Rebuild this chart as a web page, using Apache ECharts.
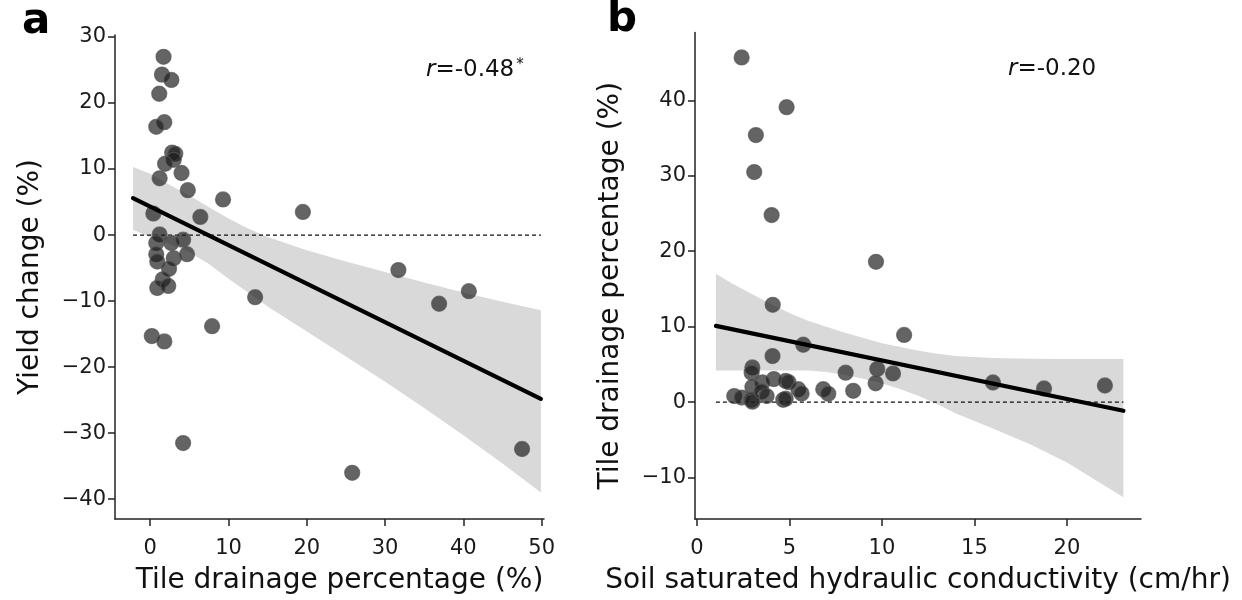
<!DOCTYPE html>
<html>
<head>
<meta charset="utf-8">
<script src="https://cdn.jsdelivr.net/npm/echarts@6/dist/echarts.min.js"></script>
<style>
html,body{margin:0;padding:0;background:#fff;}
#chart{width:1242px;height:600px;}
</style>
</head>
<body>
<div id="chart"></div>
<script>
// ---------- Panel a: Tile drainage % (x) vs Yield change % (y) ----------
const aX = [1.7, 1.5, 2.7, 1.15, 1.8, 0.77, 2.8, 3.2, 3.0, 1.9, 4.0, 1.2, 4.8, 9.3, 0.4, 6.4, 1.2, 0.77, 2.7, 4.2, 0.77, 0.9, 3.0, 4.7, 2.4, 1.6, 0.9, 2.3, 7.9, 0.2, 1.8, 4.2, 19.5, 31.7, 40.7, 36.9, 13.4, 25.8, 47.5];
const aY = [27.0, 24.3, 23.5, 21.4, 17.1, 16.4, 12.5, 12.3, 11.4, 10.8, 9.4, 8.6, 6.8, 5.4, 3.25, 2.75, 0.1, -1.2, -1.2, -0.7, -2.9, -4.0, -3.5, -2.9, -5.1, -6.7, -8.0, -7.7, -13.8, -15.3, -16.1, -31.5, 3.5, -5.3, -8.5, -10.4, -9.4, -36.0, -32.4];
const aFitX = [-2.2, 49.9];
const aFitY = [5.6, -24.8];
const aBandX = [-2.2, 0, 2.5, 5, 7.5, 10, 12.5, 15, 20, 25, 30, 35, 40, 45, 49.9];
const aBandUpper = [10.3, 9.3, 7.6, 6.0, 4.2, 2.5, 1.0, -0.3, -2.3, -4.0, -5.6, -7.2, -8.7, -10.1, -11.4];
const aBandLower = [0.8, -0.3, -1.4, -2.6, -4.4, -6.6, -8.7, -10.8, -14.6, -18.4, -22.2, -26.2, -30.3, -34.6, -39.0];
const aXTicks = [0, 10, 20, 30, 40, 50];
const aYTicks = [-40, -30, -20, -10, 0, 10, 20, 30];

// ---------- Panel b: Soil Ksat (x) vs Tile drainage % (y) ----------
const bX = [2.42, 4.85, 3.19, 3.10, 4.04, 9.68, 4.1, 11.2, 5.75, 4.09, 3.0, 2.96, 8.04, 9.75, 10.6, 9.66, 4.16, 3.55, 3.0, 4.8, 4.95, 5.48, 5.66, 6.83, 7.1, 8.45, 2.02, 2.42, 2.96, 3.0, 3.5, 3.77, 4.67, 4.8, 16.0, 18.76, 22.05];
const bY = [45.7, 39.1, 35.4, 30.5, 24.8, 18.6, 12.9, 8.9, 7.6, 6.1, 4.6, 3.9, 3.9, 4.4, 3.8, 2.5, 3.05, 2.6, 2.0, 2.8, 2.65, 1.7, 1.15, 1.7, 1.1, 1.5, 0.8, 0.6, 0.3, 0.05, 1.4, 0.8, 0.3, 0.45, 2.6, 1.8, 2.2];
const bFitX = [1.03, 23.05];
const bFitY = [10.1, -1.15];
const bBandX = [1.03, 2, 3, 4, 5, 6, 7, 8, 9, 10, 11, 12, 13, 14, 16, 18, 20, 23.05];
const bBandUpper = [17.0, 15.6, 14.3, 13.0, 11.8, 10.8, 10.0, 9.2, 8.5, 7.8, 7.3, 6.8, 6.4, 6.1, 5.85, 5.75, 5.7, 5.7];
const bBandLower = [4.2, 4.2, 4.2, 4.2, 4.2, 4.2, 4.0, 3.6, 3.1, 2.5, 1.7, 0.8, -0.3, -1.5, -3.5, -5.6, -8.0, -12.6];
const bXTicks = [0, 5, 10, 15, 20];
const bYTicks = [-10, 0, 10, 20, 30, 40];

const FONT = 'DejaVu Sans';
const minusFmt = v => String(v).replace('-', '\u2212');

function pairs(xs, ys) { return xs.map((x, i) => [x, ys[i]]); }

function xAxisCfg(idx, min, max, ticks, name, namePad) {
  return {
    type: 'value', gridIndex: idx, min: min, max: max,
    name: name, nameLocation: 'middle', nameGap: 48,
    nameTextStyle: { fontFamily: FONT, fontSize: 28, color: '#111', padding: namePad },
    axisLine: { show: true, onZero: false, lineStyle: { color: '#222', width: 1.5 } },
    axisTick: { show: true, length: 7, customValues: ticks, lineStyle: { color: '#222', width: 1.5 } },
    axisLabel: { customValues: ticks, formatter: minusFmt, fontFamily: FONT, fontSize: 21, color: '#1a1a1a', margin: 19 },
    splitLine: { show: false }
  };
}
function yAxisCfg(idx, min, max, ticks, name, namePad) {
  return {
    type: 'value', gridIndex: idx, min: min, max: max,
    name: name, nameLocation: 'middle', nameGap: 70,
    nameTextStyle: { fontFamily: FONT, fontSize: 28, color: '#111', padding: namePad },
    axisLine: { show: true, onZero: false, lineStyle: { color: '#222', width: 1.5 } },
    axisTick: { show: true, length: 7, customValues: ticks, lineStyle: { color: '#222', width: 1.5 } },
    axisLabel: { customValues: ticks, formatter: minusFmt, fontFamily: FONT, fontSize: 21, color: '#1a1a1a', margin: 9 },
    splitLine: { show: false }
  };
}

function bandSeries(idx, bandX, up, lo) {
  return {
    type: 'custom', xAxisIndex: idx, yAxisIndex: idx, silent: true, z: 1, clip: false,
    data: bandX.map((x, i) => [x, up[i], lo[i]]),
    encode: { x: 0, y: [1, 2] },
    renderItem: function (params, api) {
      if (params.dataIndex !== 0) return null;
      const top = bandX.map((x, i) => api.coord([x, up[i]]));
      const bot = bandX.map((x, i) => api.coord([x, lo[i]])).reverse();
      return {
        type: 'polygon',
        shape: { points: top.concat(bot) },
        style: { fill: '#d9d9d9', stroke: null }
      };
    }
  };
}

function panelSeries(idx, xs, ys, fitX, fitY, bandX, up, lo) {
  return [
    bandSeries(idx, bandX, up, lo),
    {
      type: 'line', xAxisIndex: idx, yAxisIndex: idx,
      data: pairs(fitX, [0, 0]), symbol: 'none', silent: true,
      lineStyle: { color: '#111', width: 1.2, type: [4, 3] }, z: 2
    },
    {
      type: 'scatter', xAxisIndex: idx, yAxisIndex: idx,
      data: pairs(xs, ys), symbol: 'circle', symbolSize: 15,
      itemStyle: { color: 'rgba(28,28,28,0.85)', borderColor: 'rgba(85,85,85,0.9)', borderWidth: 1.3 },
      z: 3
    },
    {
      type: 'line', xAxisIndex: idx, yAxisIndex: idx,
      data: pairs(fitX, fitY), symbol: 'none', silent: true,
      lineStyle: { color: '#000', width: 4.2, cap: 'round' }, z: 4
    }
  ];
}

const chart = echarts.init(document.getElementById('chart'), null, { renderer: 'canvas' });
chart.setOption({
  backgroundColor: '#fff',
  animation: false,
  grid: [
    { left: 115, top: 35, width: 429, height: 484 },
    { left: 695, top: 32.5, width: 446, height: 486.5 }
  ],
  xAxis: [
    xAxisCfg(0, -4.5, 50.3, aXTicks, 'Tile drainage percentage (%)', [0, 0, 0, 20]),
    xAxisCfg(1, -0.1, 24.0, bXTicks, 'Soil saturated hydraulic conductivity (cm/hr)', 0)
  ],
  yAxis: [
    yAxisCfg(0, -43, 30.3, aYTicks, 'Yield change (%)', 0),
    yAxisCfg(1, -15.5, 49, bYTicks, 'Tile drainage percentage (%)', [0, 20, 0, 0])
  ],
  series: [].concat(
    panelSeries(0, aX, aY, aFitX, aFitY, aBandX, aBandUpper, aBandLower),
    panelSeries(1, bX, bY, bFitX, bFitY, bBandX, bBandUpper, bBandLower)
  ),
  graphic: [
    { type: 'text', left: 22, top: 1, z: 100, style: { text: 'a', fontFamily: FONT, fontWeight: 'bold', fontSize: 42, fill: '#000' } },
    { type: 'text', left: 607, top: -1, z: 100, style: { text: 'b', fontFamily: FONT, fontWeight: 'bold', fontSize: 42, fill: '#000' } },
    { type: 'text', left: 426, top: 58, z: 100, style: {
        text: '{i|r}{n|=-0.48}{s|*}',
        rich: {
          i: { fontFamily: FONT, fontStyle: 'italic', fontSize: 23, fill: '#111' },
          n: { fontFamily: FONT, fontSize: 23, fill: '#111' },
          s: { fontFamily: FONT, fontSize: 15, fill: '#111', verticalAlign: 'top', padding: [0, 0, 10, 2] }
        } } },
    { type: 'text', left: 1008, top: 58, z: 100, style: {
        text: '{i|r}{n|=-0.20}',
        rich: {
          i: { fontFamily: FONT, fontStyle: 'italic', fontSize: 23, fill: '#111' },
          n: { fontFamily: FONT, fontSize: 23, fill: '#111' }
        } } }
  ]
});
</script>
</body>
</html>
